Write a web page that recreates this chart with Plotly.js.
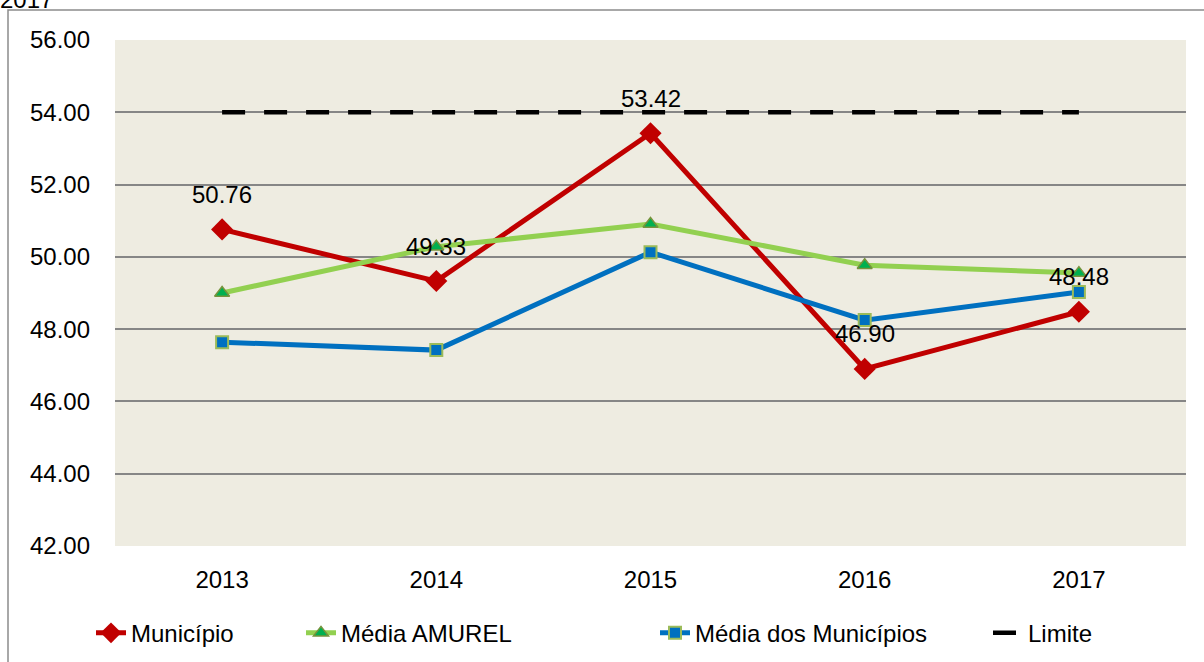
<!DOCTYPE html>
<html>
<head>
<meta charset="utf-8">
<script src="https://cdn.plot.ly/plotly-3.0.1.min.js"></script>
<style>
html,body{margin:0;padding:0;background:#fff;overflow:hidden;}
#chart{width:1204px;height:662px;}
</style>
</head>
<body>
<div id="chart"></div>
<script>
const years = ['2013', '2014', '2015', '2016', '2017'];
const municipio = [50.76, 49.33, 53.42, 46.90, 48.48];
const mediaAmurel = [49.00, 50.28, 50.91, 49.77, 49.55];
const mediaMunicipios = [47.64, 47.42, 50.13, 48.25, 49.03];
const limite = [54, 54, 54, 54, 54];
const yTicks = [42, 44, 46, 48, 50, 52, 54, 56];

const font = 'Liberation Sans, Arial, sans-serif';
const FS = 24;

const traces = [
  {
    x: years, y: municipio, name: 'Município', type: 'scatter', mode: 'lines+markers', legend: 'legend',
    line: {color: '#C00000', width: 5},
    marker: {symbol: 'diamond', size: 17, color: '#C00000'}
  },
  {
    x: years, y: mediaAmurel, name: 'Média AMUREL', type: 'scatter', mode: 'lines+markers', legend: 'legend2',
    line: {color: '#92D050', width: 5},
    marker: {symbol: 'triangle-up', size: 13, color: '#00B050', line: {color: '#77933C', width: 1.5}}
  },
  {
    x: years, y: mediaMunicipios, name: 'Média dos Municípios', type: 'scatter', mode: 'lines+markers', legend: 'legend3',
    line: {color: '#0070C0', width: 5},
    marker: {symbol: 'square', size: 12, color: '#0070C0', line: {color: '#9BBB59', width: 2}}
  },
  {
    x: years, y: limite, name: 'Limite', type: 'scatter', mode: 'lines', legend: 'legend4',
    line: {color: '#000000', width: 4.5, dash: '23px,19px'}
  }
];

const annotations = years.map((yr, i) => ({
  x: i, y: municipio[i], xref: 'x', yref: 'y',
  text: municipio[i].toFixed(2), showarrow: false,
  yshift: 35, font: {family: font, size: FS, color: '#000'}
}));
annotations.push({
  xref: 'paper', yref: 'paper', x: -117/1071, y: 1.05, xanchor: 'left', yanchor: 'bottom',
  text: '2017', showarrow: false, font: {family: font, size: FS, color: '#000'}
});

function leg(textStartPx) {
  return {
    orientation: 'h', x: (textStartPx - 40 - 115) / 1071, xanchor: 'left', y: -0.128, yanchor: 'top',
    font: {family: font, size: FS, color: '#000'}, bgcolor: 'rgba(0,0,0,0)'
  };
}

const layout = {
  width: 1204, height: 662,
  margin: {l: 115, r: 18, t: 40, b: 116, autoexpand: false},
  paper_bgcolor: '#ffffff',
  plot_bgcolor: '#EEECE1',
  font: {family: font, size: FS, color: '#000'},
  showlegend: true,
  legend: leg(131),
  legend2: leg(341),
  legend3: leg(695),
  legend4: leg(1028),
  xaxis: {
    type: 'category', showgrid: false, zeroline: false, showline: false,
    ticks: '', tickfont: {family: font, size: FS}, ticklabelstandoff: 17,
    range: [-0.5, 4.5], automargin: false
  },
  yaxis: {
    range: [42, 56], tickvals: yTicks, ticktext: yTicks.map(v => v.toFixed(2)),
    showgrid: true, gridcolor: '#868686', gridwidth: 1.5, zeroline: false, showline: false,
    ticks: '', tickfont: {family: font, size: FS}, ticklabelstandoff: 24, automargin: false
  },
  shapes: [
    {type: 'rect', xref: 'paper', yref: 'paper', x0: -107/1071, x1: 1.2, y0: -0.5, y1: 1 + 30/506,
     line: {color: '#8C8C8C', width: 1.5}, fillcolor: 'rgba(0,0,0,0)', layer: 'below'}
  ],
  annotations: annotations
};

Plotly.newPlot('chart', traces, layout, {displayModeBar: false});
</script>
</body>
</html>
